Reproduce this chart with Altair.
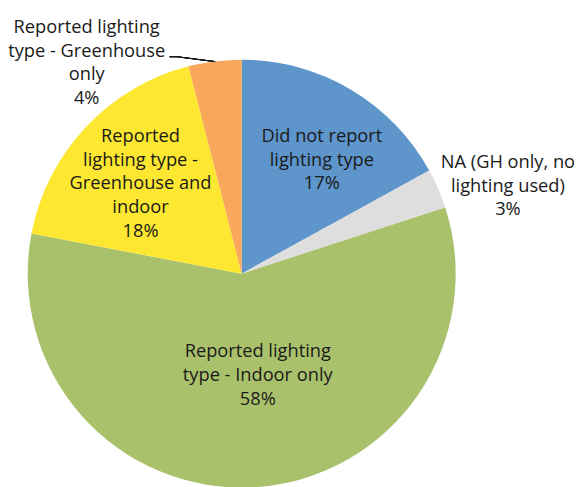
import altair as alt
import pandas as pd

categories = [
    "Did not report lighting type",
    "NA (GH only, no lighting used)",
    "Reported lighting type - Indoor only",
    "Reported lighting type - Greenhouse and indoor",
    "Reported lighting type - Greenhouse only",
]
percents = [17, 3, 58, 18, 4]
label_texts = [
    "Did not report\nlighting type\n17%",
    "NA (GH only, no\nlighting used)\n3%",
    "Reported lighting\ntype - Indoor only\n58%",
    "Reported\nlighting type -\nGreenhouse and\nindoor\n18%",
    "Reported lighting\ntype - Greenhouse\nonly\n4%",
]
colors = ["#5E95CB", "#DEDEDE", "#AAC16C", "#FDE730", "#F9A85B"]

df = pd.DataFrame({
    "cat": categories,
    "value": percents,
    "label": label_texts,
    "idx": list(range(len(categories))),
})

base = alt.Chart(df)

theta = alt.Theta("value:Q", stack=True)
order = alt.Order("idx:Q")

pie = base.mark_arc().encode(
    theta=theta,
    order=order,
    radius=alt.value(217),
    color=alt.Color("cat:N", scale=alt.Scale(domain=categories, range=colors), legend=None),
)

LH = 24
# per-label placement (style, not data): radius, dx, dy (block centre)
label_layout = {
    categories[0]: (140, 10, 5),
    categories[1]: (280, 13, 22),
    categories[2]: (100, 10, 3),
    categories[3]: (138, -2, 3),
    categories[4]: (265, -124, 49),
}

layers = [pie]
for i, c in enumerate(categories):
    r, dx, dy = label_layout[c]
    n_lines = label_texts[i].count("\n") + 1
    t = base.transform_calculate(
        txt=f"datum.idx == {i} ? datum.label : ''"
    ).mark_text(
        radius=r, dx=dx, dy=dy - (n_lines - 1) * LH / 2, lineBreak="\n", lineHeight=LH,
        font="Open Sans", fontSize=18.5, color="#1a1a1a",
        align="center", baseline="middle",
    ).encode(
        theta=theta,
        order=order,
        detail="cat:N",
        text="txt:N",
    )
    layers.append(t)

leader1 = alt.Chart(df).mark_rule(color="#1a1a1a", strokeWidth=1).encode(
    x=alt.value(164), x2=alt.value(171), y=alt.value(-7), y2=alt.value(-7)
)
leader2 = alt.Chart(df).mark_rule(color="#1a1a1a", strokeWidth=1).encode(
    x=alt.value(171), x2=alt.value(210), y=alt.value(-7), y2=alt.value(-2)
)
layers += [leader1, leader2]

chart = alt.layer(*layers).properties(
    width=474,
    height=426,
    autosize=alt.AutoSizeParams(type="none"),
    padding={"left": 0, "top": 53, "right": 101, "bottom": 0},
).configure_view(stroke=None)

chart.save("out.html", embed_options={"renderer": "svg", "actions": False})
